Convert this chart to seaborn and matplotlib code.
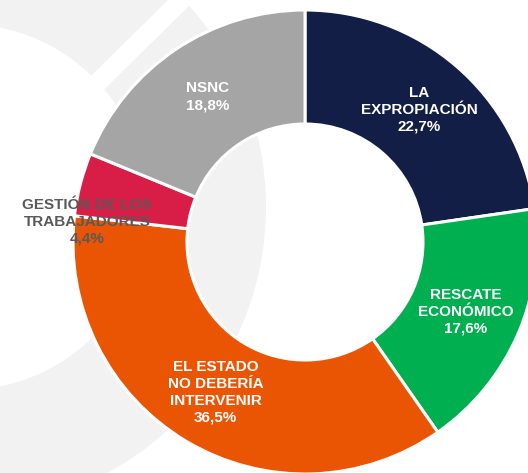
import matplotlib
matplotlib.use("Agg")
import math
import matplotlib.pyplot as plt
from matplotlib.patches import Wedge, Polygon
import seaborn as sns

# ---- data ----
categories = ["LA\nEXPROPIACIÓN", "RESCATE\nECONÓMICO", "EL ESTADO\nNO DEBERÍA\nINTERVENIR",
              "GESTIÓN DE LOS\nTRABAJADORES", "NSNC"]
values = [22.7, 17.6, 36.5, 4.4, 18.8]
colors = ["#121E45", "#00AF50", "#EA5504", "#D81E46", "#A5A5A5"]
label_colors = ["white", "white", "white", "#595959", "white"]

sns.set_theme(style="white")
plt.rcParams["font.family"] = ["Liberation Sans", "DejaVu Sans"]
palette = sns.color_palette(colors)

W, H = 528, 473
fig = plt.figure(figsize=(W / 100, H / 100), dpi=100)
ax = fig.add_axes([0, 0, 1, 1])

# geometry in pixels -> data units (outer radius = 1)
CX, CY, R = 305, 242, 232.0
def px(x, y):
    return ((x - CX) / R, (CY - y) / R)

# decorative background ring (watermark)
bc = px(-36, 207)
ax.add_patch(Wedge(bc, 302 / R, 0, 360, width=(302 - 183) / R,
                   facecolor="#F2F2F2", edgecolor="none", zorder=0))
band = [px(244, -75), px(16, 150), px(29.3, 163.5), px(257.3, -61.5)]
ax.add_patch(Polygon(band, closed=True, facecolor="white", edgecolor="none", zorder=0.5))

wedges, _ = ax.pie(values, colors=palette, startangle=90, counterclock=False,
                   radius=1.0,
                   wedgeprops=dict(width=1 - 118 / R, edgecolor="white", linewidth=2.2))
for w in wedges:
    w.set_zorder(2)

lab_r = (1 + 118 / R) / 2
for i, (w, cat, v) in enumerate(zip(wedges, categories, values)):
    txt = f"{cat}\n{v:.1f}".replace(".", ",") + "%"
    if i == 3:
        x, y = px(87, 222)
    else:
        th = math.radians((w.theta1 + w.theta2) / 2)
        x, y = lab_r * math.cos(th), lab_r * math.sin(th)
    ax.text(x, y, txt, ha="center", va="center", multialignment="center",
            fontsize=11, fontweight="bold", color=label_colors[i],
            linespacing=1.25, zorder=5)

ax.set_xlim(-CX / R, (W - CX) / R)
ax.set_ylim(-(H - CY) / R, CY / R)
ax.set_aspect("auto")
ax.axis("off")

fig.savefig("out.png", dpi=100, facecolor="white")
